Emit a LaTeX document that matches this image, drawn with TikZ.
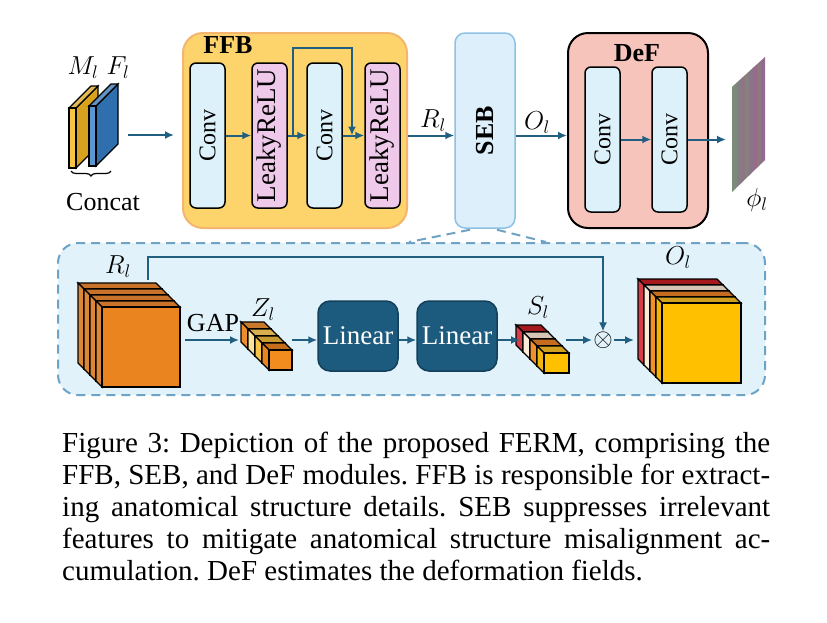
\documentclass[tikz,border=0pt]{standalone}
\usepackage{fix-cm}
\usepackage{graphicx}
\usepackage{fontspec}
\setmainfont{LiberationSerif}[Extension=.ttf, UprightFont=*-Regular, BoldFont=*-Bold, ItalicFont=*-Italic, BoldItalicFont=*-BoldItalic]
\usepackage{tikz}
\usetikzlibrary{calc,arrows.meta,decorations.pathreplacing}
\frenchspacing

\definecolor{arrowblue}{HTML}{215F80}
\definecolor{ffbfill}{HTML}{FDD46C}
\definecolor{ffbline}{HTML}{F4B66E}
\definecolor{convfill}{HTML}{DDF1FA}
\definecolor{relufill}{HTML}{EEC9E9}
\definecolor{sebfill}{HTML}{DDEFFA}
\definecolor{sebline}{HTML}{8EC1E3}
\definecolor{deffill}{HTML}{F7C4BB}
\definecolor{sebinfill}{HTML}{E2F2FB}
\definecolor{sebinline}{HTML}{6FA3C6}
\definecolor{linfill}{HTML}{1D5B7E}
\definecolor{linline}{HTML}{12405A}
\definecolor{yelfront}{HTML}{F6C443}
\definecolor{yelside}{HTML}{D9A21E}
\definecolor{bluefront}{HTML}{5B96D0}
\definecolor{blueside}{HTML}{2F6FAE}
\definecolor{rlfront}{HTML}{E9841E}
\definecolor{rltop}{HTML}{C8722A}
\definecolor{rlside}{HTML}{DC8738}
\definecolor{zfront}{HTML}{F28C1E}
\definecolor{ztopa}{HTML}{C46E1D}
\definecolor{zsidea}{HTML}{EA841F}
\definecolor{ztopb}{HTML}{C99A30}
\definecolor{zsideb}{HTML}{F8C547}
\definecolor{ztopc}{HTML}{D9AE4E}
\definecolor{zsidec}{HTML}{FDE39A}
\definecolor{ztopd}{HTML}{C9792B}
\definecolor{zsided}{HTML}{EE8D2D}
\definecolor{sfront}{HTML}{FFC000}
\definecolor{stopa}{HTML}{D2A01F}
\definecolor{ssidea}{HTML}{F2B50A}
\definecolor{stopb}{HTML}{C46C20}
\definecolor{ssideb}{HTML}{F0902A}
\definecolor{stopc}{HTML}{D6C4B5}
\definecolor{ssidec}{HTML}{FCEBD6}
\definecolor{stopd}{HTML}{A3191D}
\definecolor{ssided}{HTML}{D63D47}
\definecolor{phigreen}{HTML}{7A8F78}
\definecolor{phipink}{HTML}{A0628C}
\definecolor{phiviolet}{HTML}{86709A}

\newcommand{\lblfont}{\fontsize{26}{30}\selectfont}

% thin plate, depth going up-right
\newcommand{\plate}[4]{%
  \filldraw[fill=#4,line width=1.2pt] (#1+7,#2+60) -- (#1+7,#2) -- (#1+29,#2-22) -- (#1+29,#2+38) -- cycle;
  \filldraw[fill=#4!75!white,line width=1.2pt] (#1,#2) -- (#1+7,#2) -- (#1+29,#2-22) -- (#1+22,#2-22) -- cycle;
  \filldraw[fill=#3,line width=1.2pt] (#1,#2) rectangle (#1+7,#2+60);
}
% one slab of a feature cube: x y w h depth front top side
\newcommand{\slab}[8]{%
  \filldraw[fill=#7] (#1,#2) -- (#1+#3,#2) -- (#1+#3-#5,#2-#5) -- (#1-#5,#2-#5) -- cycle;
  \filldraw[fill=#8] (#1,#2) -- (#1,#2+#4) -- (#1-#5,#2+#4-#5) -- (#1-#5,#2-#5) -- cycle;
  \filldraw[fill=#6] (#1,#2) rectangle (#1+#3,#2+#4);
}

\tikzset{
  arr/.style={->, >={Latex[length=9pt,width=8pt]}, line width=2pt, draw=arrowblue},
  lbl/.style={font=\lblfont, inner sep=0pt},
  inbox/.style={draw=black, line width=1.5pt, rounded corners=6pt, minimum width=35pt, minimum height=145pt, inner sep=0pt},
  convbox/.style={inbox, fill=convfill, font=\fontsize{24}{28}\selectfont},
  relubox/.style={inbox, fill=relufill, font=\fontsize{27}{30}\selectfont},
  linbox/.style={draw=linline, fill=linfill, line width=1.5pt, rounded corners=12pt, minimum width=80pt, minimum height=70pt, inner sep=0pt, text=white, font=\fontsize{27}{30}\selectfont},
  zoomline/.style={draw=sebinline, line width=2pt, dash pattern=on 9pt off 6pt},
}

\begin{document}
\begin{tikzpicture}[x=1pt,y=-1pt]
\useasboundingbox (0,0) rectangle (827,622);
\fill[white] (0,0) rectangle (827,622);

% inputs
\plate{69}{108}{yelfront}{yelside}
\plate{89}{106}{bluefront}{blueside}
\node[lbl] (ml) at (83,68) {$M_l$};
\node[lbl] (fl) at (118,68) {$F_l$};
\draw[decorate, decoration={brace, mirror, amplitude=5pt}, line width=1.2pt] (71,171) -- (111,171);
\node[lbl] (concat) at (103,202) {Concat};
\coordinate (cat) at (128,135);

% FFB
\node[draw=ffbline, fill=ffbfill, line width=2pt, rounded corners=20pt, minimum width=224pt, minimum height=195pt] (ffb) at (295,130.5) {};
\node[lbl, font=\lblfont\bfseries] (ffbname) at (228,45) {FFB};
\node[convbox] (conva) at (207.5,135.5) {\rotatebox{90}{Conv}};
\node[relubox] (relua) at (269.5,135.5) {\rotatebox{90}{LeakyReLU}};
\node[convbox] (convb) at (324.5,135.5) {\rotatebox{90}{Conv}};
\node[relubox] (relub) at (382.5,135.5) {\rotatebox{90}{LeakyReLU}};
\draw[arr, shorten >=8pt] (cat) -- (cat -| ffb.west);
\draw[arr] (conva) -- (relua);
\draw[arr] (relua) -- (convb);
\draw[arr] (convb) -- (relub);
\coordinate (skipa) at ($(relua.east)!.3!(convb.west)$);
\coordinate (skipb) at ($(convb.east)!.43!(relub.west)$);
\draw[arr] (skipa) -- ++(0,-88) -| (skipb);

% SEB
\node[draw=sebline, fill=sebfill, line width=1.5pt, rounded corners=10pt, minimum width=60pt, minimum height=195pt, inner sep=0pt] (seb) at (485,130.5) {\rotatebox{90}{\lblfont\bfseries SEB}};
\draw[arr] (ffb.east |- relub) -- (seb.west |- relub);
\node[lbl] (rlab) at (433,121) {$R_l$};

% DeF
\node[draw=black, fill=deffill, line width=2pt, rounded corners=20pt, minimum width=140pt, minimum height=195pt] (def) at (638,130.5) {};
\node[lbl, font=\lblfont\bfseries] (defname) at (637,53) {DeF};
\node[convbox] (dconva) at (602.5,139.5) {\rotatebox{90}{Conv}};
\node[convbox] (dconvb) at (669.5,139.5) {\rotatebox{90}{Conv}};
\draw[arr] (seb.east |- relub) -- (def.west |- relub);
\node[lbl] (olab) at (537,123) {$O_l$};
\draw[arr] (dconva) -- (dconvb);

% deformation field
\begin{scope}
  \clip (732,87) -- (765,57) -- (765,160) -- (732,192) -- cycle;
  \shade[left color=phigreen, right color=phipink] (730,55) rectangle (767,194);
  \foreach \x/\c in {733/phigreen, 737/phiviolet, 741/phipink, 745/phigreen, 749/phiviolet, 753/phipink, 757/phigreen, 761/phiviolet}
    {\fill[\c, opacity=0.35] (\x,55) rectangle ++(3.5,140);}
\end{scope}
\coordinate (phiw) at (726,138);
\draw[arr] (dconvb) -- (dconvb -| phiw);
\node[lbl] (philab) at (757,200) {$\phi_l$};

% SEB in detail
\node[zoomline, fill=sebinfill, rounded corners=20pt, minimum width=707pt, minimum height=152pt] (sebin) at (411.5,319) {};
\draw[zoomline] ($(seb.south)+(-15,1)$) -- ($(sebin.north west)+(352,0)$);
\draw[zoomline] ($(seb.south)+(12,1)$) -- ($(sebin.north west)+(489,0)$);

\begin{scope}[line width=1.3pt]
  % R_l
  \foreach \i in {3,2,1,0}
    {\slab{102-6*\i}{307-6*\i}{78}{80}{6}{rlfront}{rltop}{rlside}}
  % Z_l
  \foreach \i/\ct/\cs in {3/ztopd/zsided, 2/ztopc/zsidec, 1/ztopb/zsideb, 0/ztopa/zsidea}
    {\slab{269-7*\i}{350-7*\i}{23}{20}{7}{zfront}{\ct}{\cs}}
  % S_l
  \foreach \i/\ct/\cs in {3/stopd/ssided, 2/stopc/ssidec, 1/stopb/ssideb, 0/stopa/ssidea}
    {\slab{544-7*\i}{353-7*\i}{25}{20}{7}{sfront}{\ct}{\cs}}
  % O_l
  \foreach \i/\ct/\cs in {3/stopd/ssided, 2/stopc/ssidec, 1/stopb/ssideb, 0/stopa/ssidea}
    {\slab{662-6*\i}{303-6*\i}{79}{80}{6}{sfront}{\ct}{\cs}}
\end{scope}
\node[lbl] (rllab) at (118,267) {$R_l$};
\node[lbl] (zllab) at (263,310) {$Z_l$};
\node[lbl] (sllab) at (538,308) {$S_l$};
\node[lbl] (ollab) at (678,258) {$O_l$};

\coordinate (rle) at (180,340);
\coordinate (zlw) at (241,340);
\coordinate (zle) at (292,340);
\coordinate (slw) at (520,340);
\coordinate (sle) at (569,340);
\coordinate (olw) at (637,340);
\coordinate (rtop) at (148,280);
\node[linbox] (lina) at (358,336) {Linear};
\node[linbox] (linb) at (457,336) {Linear};
\node[inner sep=0pt, font=\fontsize{25}{28}\selectfont] (mul) at (603,340) {$\otimes$};

\draw[arr, shorten <=5pt, shorten >=2pt] (rle) -- (zlw);
\node[lbl] (gap) at (213,323) {GAP};
\draw[arr] (zle) -- (zle -| lina.west);
\draw[arr] (lina.east |- zle) -- (linb.west |- zle);
\draw[arr] (linb.east |- zle) -- (slw);
\draw[arr, shorten <=-3pt, shorten >=1pt] (sle) -- (mul.west);
\draw[arr, shorten <=1pt, shorten >=3pt] (mul.east) -- (olw);
\draw[arr] (rtop) -- ++(0,-23) -| (mul.north);

% caption
\node[anchor=north west, inner sep=0pt, text width=708pt, align=justify, font=\fontsize{29}{32}\selectfont] (cap) at (62,432) {Figure 3: Depiction of the proposed FERM, comprising the\linebreak FFB, SEB, and DeF modules. FFB is responsible for extract-\linebreak ing anatomical structure details. SEB suppresses irrelevant\linebreak features to mitigate anatomical structure misalignment ac-\linebreak cumulation. DeF estimates the deformation fields.};
\end{tikzpicture}
\end{document}
